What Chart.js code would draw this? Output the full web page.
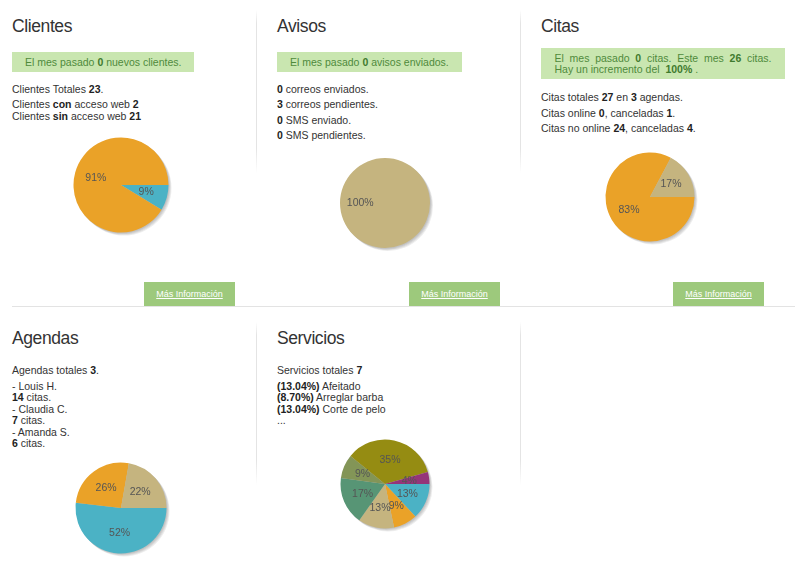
<!DOCTYPE html>
<html>
<head>
<meta charset="utf-8">
<script src="https://cdn.jsdelivr.net/npm/chart.js@4.4.1/dist/chart.umd.min.js"></script>
<style>
  html, body { margin: 0; padding: 0; background: #fff; }
  body { width: 795px; height: 572px; position: relative; overflow: hidden;
         font-family: "Liberation Sans", Arial, Helvetica, sans-serif; font-size: 10.5px; color: #333; }
  b { color: #222; }
  .sec { position: absolute; width: 244px; }
  .sec h2 { margin: 16px 0 0; font-size: 17.5px; line-height: 20px; font-weight: normal;
            letter-spacing: -0.4px; color: #333; }
  .note { width: fit-content; margin-top: 16px; padding: 4px 13px; line-height: 12px;
          background: #c9e6b0; color: #4f8a3c; }
  .note b { color: #3f7a2e; }
  .note.wide { width: auto; margin-top: 12px; padding: 5px 13.5px 4px; line-height: 11px; }
  .note.wide .jl { text-align: justify; text-align-last: justify; }
  .sec p { margin: 4px 0 0; line-height: 11.5px; }
  .sec p.first { margin-top: 11.6px; }
  .sec p.first.c { margin-top: 13.3px; }
  .sec p.first.r2 { margin-top: 17.4px; }
  .btn { position: absolute; top: 282px; width: 91px; height: 24px; line-height: 24px;
         background: #9dc97c; color: #fff; font-size: 9px; text-align: center; text-decoration: underline; }
  .vline { position: absolute; width: 1px; height: 163px;
           background: linear-gradient(to bottom, rgba(226,226,226,0), #e4e4e4 8%, #e4e4e4 85%, rgba(226,226,226,0)); }
  .hline { position: absolute; left: 12px; top: 306px; width: 783px; height: 1px; background: #e3e3e3; }
  .pie { position: absolute; width: 130px; height: 130px; }
</style>
</head>
<body>

<div class="vline" style="left:256px; top:10px"></div>
<div class="vline" style="left:520px; top:10px"></div>
<div class="vline" style="left:256px; top:322px"></div>
<div class="vline" style="left:520px; top:322px"></div>
<div class="hline"></div>

<div class="sec" style="left:12px; top:0">
  <h2>Clientes</h2>
  <div class="note">El mes pasado <b>0</b> nuevos clientes.</div>
  <p class="first">Clientes Totales <b>23</b>.</p>
  <p>Clientes <b>con</b> acceso web <b>2</b><br>Clientes <b>sin</b> acceso web <b>21</b></p>
</div>

<div class="sec" style="left:277px; top:0">
  <h2>Avisos</h2>
  <div class="note">El mes pasado <b>0</b> avisos enviados.</div>
  <p class="first"><b>0</b> correos enviados.</p>
  <p><b>3</b> correos pendientes.</p>
  <p><b>0</b> SMS enviado.</p>
  <p><b>0</b> SMS pendientes.</p>
</div>

<div class="sec" style="left:541px; top:0">
  <h2>Citas</h2>
  <div class="note wide">
    <div class="jl">El mes pasado <b>0</b> citas. Este mes <b>26</b> citas.</div>
    <div>Hay un incremento del &nbsp;<b>100%</b> .</div>
  </div>
  <p class="first c">Citas totales <b>27</b> en <b>3</b> agendas.</p>
  <p>Citas online <b>0</b>, canceladas <b>1</b>.</p>
  <p>Citas no online <b>24</b>, canceladas <b>4</b>.</p>
</div>

<div class="sec" style="left:12px; top:312px">
  <h2>Agendas</h2>
  <p class="first r2">Agendas totales <b>3</b>.</p>
  <p>- Louis H.<br><b>14</b> citas.<br>- Claudia C.<br><b>7</b> citas.<br>- Amanda S.<br><b>6</b> citas.</p>
</div>

<div class="sec" style="left:277px; top:312px">
  <h2>Servicios</h2>
  <p class="first r2">Servicios totales <b>7</b></p>
  <p><b>(13.04%)</b> Afeitado<br><b>(8.70%)</b> Arreglar barba<br><b>(13.04%)</b> Corte de pelo<br>...</p>
</div>

<a class="btn" style="left:144px">Más Información</a>
<a class="btn" style="left:409px">Más Información</a>
<a class="btn" style="left:673px">Más Información</a>

<div class="pie" style="left:56px; top:119.5px"><canvas id="pieClientes" width="130" height="130"></canvas></div>
<div class="pie" style="left:320px; top:138px"><canvas id="pieAvisos" width="130" height="130"></canvas></div>
<div class="pie" style="left:584.5px; top:131.5px"><canvas id="pieCitas" width="130" height="130"></canvas></div>
<div class="pie" style="left:55.5px; top:442.5px"><canvas id="pieAgendas" width="130" height="130"></canvas></div>
<div class="pie" style="left:320px; top:418.5px"><canvas id="pieServicios" width="130" height="130"></canvas></div>

<script>
// series colours, same order as the old jqplot defaults
var seriesColors = ['#4bb2c5', '#EAA228', '#c5b47f', '#579575', '#839557', '#958c12', '#953579'];

var clientesLabels = ['Con acceso web', 'Sin acceso web'];
var clientesValues = [2, 21];

var avisosLabels = ['Correos enviados', 'SMS enviados', 'Correos pendientes', 'SMS pendientes'];
var avisosValues = [0, 0, 3, 0];

var citasLabels = ['Online', 'No online', 'Canceladas'];
var citasValues = [0, 24, 5];

var agendasLabels = ['Louis H.', 'Claudia C.', 'Amanda S.'];
var agendasValues = [14, 7, 6];

var serviciosLabels = ['Afeitado', 'Arreglar barba', 'Corte de pelo', 'Tinte', 'Lavado', 'Corte y barba', 'Otros'];
var serviciosValues = [3, 2, 3, 4, 2, 8, 1];

// soft shadow under the pie
var pieShadow = {
  id: 'pieShadow',
  beforeDatasetsDraw: function (chart) {
    var arc = chart.getDatasetMeta(0).data[0];
    if (!arc) return;
    var p = arc.getProps(['x', 'y', 'outerRadius'], true);
    var ctx = chart.ctx;
    ctx.save();
    for (var i = 1; i <= 4; i++) {
      ctx.fillStyle = 'rgba(0,0,0,0.07)';
      ctx.beginPath();
      ctx.arc(p.x + i * 0.75, p.y + i * 0.75, p.outerRadius, 0, Math.PI * 2);
      ctx.fill();
    }
    ctx.restore();
  }
};

// percentage text inside each slice
var pieLabels = {
  id: 'pieLabels',
  afterDatasetsDraw: function (chart) {
    var meta = chart.getDatasetMeta(0);
    var values = chart.data.datasets[0].data;
    var total = values.reduce(function (a, b) { return a + b; }, 0);
    var ctx = chart.ctx;
    ctx.save();
    ctx.font = '10.5px "Liberation Sans", Arial, sans-serif';
    ctx.fillStyle = '#555';
    ctx.textAlign = 'center';
    ctx.textBaseline = 'middle';
    meta.data.forEach(function (arc, i) {
      var pct = values[i] / total * 100;
      if (pct < 3) return;
      var p = arc.getProps(['x', 'y', 'startAngle', 'endAngle', 'outerRadius'], true);
      var mid = (p.startAngle + p.endAngle) / 2;
      var r = p.outerRadius * 0.55;
      ctx.fillText(Math.round(pct) + '%', p.x + Math.cos(mid) * r, p.y + Math.sin(mid) * r);
    });
    ctx.restore();
  }
};

function makePie(id, labels, values, pad) {
  return new Chart(document.getElementById(id), {
    type: 'pie',
    data: {
      labels: labels,
      datasets: [{
        data: values,
        backgroundColor: seriesColors.slice(0, values.length),
        borderWidth: 0,
        hoverOffset: 0
      }]
    },
    options: {
      responsive: false,
      animation: false,
      events: [],
      rotation: 90,
      layout: { padding: pad },
      plugins: { legend: { display: false }, tooltip: { enabled: false } }
    },
    plugins: [pieShadow, pieLabels]
  });
}

makePie('pieClientes', clientesLabels, clientesValues, 17.5);
makePie('pieAvisos', avisosLabels, avisosValues, 20);
makePie('pieCitas', citasLabels, citasValues, 20.5);
makePie('pieAgendas', agendasLabels, agendasValues, 19.5);
makePie('pieServicios', serviciosLabels, serviciosValues, 20.5);
</script>
</body>
</html>
